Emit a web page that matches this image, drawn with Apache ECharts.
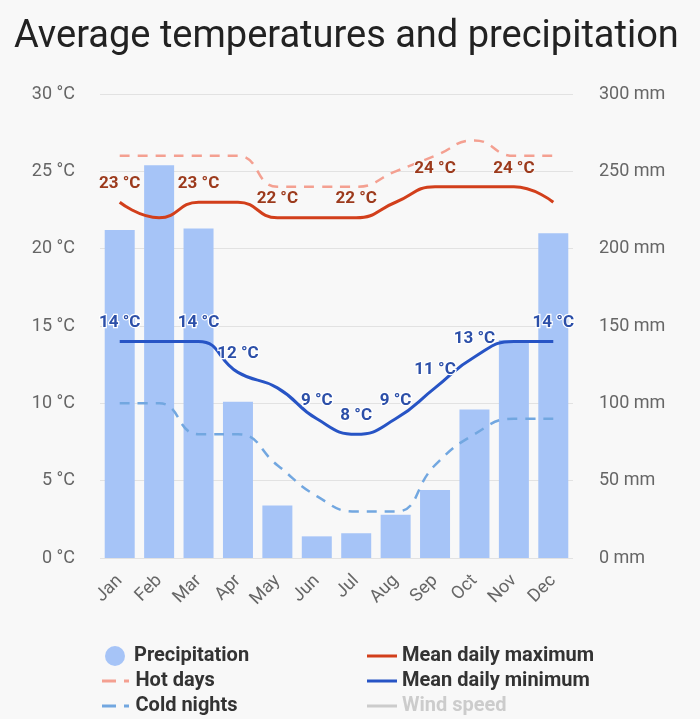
<!DOCTYPE html>
<html><head><meta charset="utf-8">
<script src="https://cdn.jsdelivr.net/npm/echarts@6/dist/echarts.min.js"></script>
<style>html,body{margin:0;padding:0;background:#f8f8f8}#c{width:700px;height:719px}</style>
</head><body><div id="c"></div>
<script>
const months = ['Jan','Feb','Mar','Apr','May','Jun','Jul','Aug','Sep','Oct','Nov','Dec'];
const precipitation = [212, 254, 213, 101, 34, 14, 16, 28, 44, 96, 141, 210];
const meanMax = [23, 22, 23, 23, 22, 22, 22, 23, 24, 24, 24, 23];
const meanMin = [14, 14, 14, 12, 11, 9, 8, 9, 11, 13, 14, 14];
const hotDays = [26, 26, 26, 26, 24, 24, 24, 25, 26, 27, 26, 26];
const coldNights = [10, 10, 8, 8, 6, 4, 3, 3, 6, 8, 9, 9];
const maxLabelShown = [1,0,1,0,1,0,1,0,1,0,1,0];
const minLabelShown = [1,0,1,1,0,1,1,1,1,1,0,1];

function labelled(vals, shown){
  return vals.map((v,i)=>({value:v,label:{show:!!shown[i]}}));
}
const chart = echarts.init(document.getElementById('c'));
const font = 'Roboto, "Noto Sans", sans-serif';
const legendText = {fontFamily:font,fontSize:20,fontWeight:'bold',color:'#333'};
const dashIcon = 'path://M0,0 h14 v3 h-14 z M22,0 h5 v3 h-5 z';
chart.setOption({
  backgroundColor:'#f8f8f8',
  animation:false,
  title:{text:'Average temperatures and precipitation',left:9,top:13,
    textStyle:{fontFamily:font,fontSize:38,fontWeight:'normal',color:'#222'}},
  grid:{left:100,right:127,top:94,bottom:161},
  legend:[{
    orient:'vertical',left:105,top:646,padding:0,itemGap:6,itemWidth:28,itemHeight:20,
    textStyle:legendText,inactiveColor:'#ccc',
    data:[{name:'Precipitation',icon:'circle'}]
  },{
    orient:'vertical',left:102,top:671,padding:0,itemGap:5,itemWidth:30,itemHeight:3,
    textStyle:legendText,inactiveColor:'#ccc',
    data:[{name:'Hot days',icon:dashIcon},{name:'Cold nights',icon:dashIcon}]
  },{
    orient:'vertical',left:367,top:646,padding:0,itemGap:5,itemWidth:30,itemHeight:3,
    textStyle:legendText,inactiveColor:'#ccc',
    data:[{name:'Mean daily maximum',icon:'rect'},{name:'Mean daily minimum',icon:'rect'},{name:'Wind speed',icon:'rect'}],
    selected:{'Wind speed':false}
  }],
  xAxis:{type:'category',data:months,
    axisLine:{show:false},axisTick:{show:false},
    axisLabel:{rotate:45,color:'#666',fontFamily:font,fontSize:18,margin:20}},
  yAxis:[{type:'value',min:0,max:30,interval:5,
    axisLabel:{formatter:'{value} °C',color:'#666',fontFamily:font,fontSize:18,margin:25},
    splitLine:{lineStyle:{color:'#e2e2e2',width:1}}},
  {type:'value',min:0,max:300,interval:50,
    axisLabel:{formatter:'{value} mm',color:'#666',fontFamily:font,fontSize:18,margin:26},
    splitLine:{show:false}}],
  series:[
    {name:'Precipitation',type:'bar',yAxisIndex:1,data:precipitation,barWidth:30,
      itemStyle:{color:'#a6c4f7'},z:1},
    {name:'Hot days',type:'line',smooth:0.5,data:hotDays,symbol:'none',
      lineStyle:{color:'#f4a091',width:2.5,type:[10,8]},itemStyle:{color:'#f4a091'},z:2},
    {name:'Cold nights',type:'line',smooth:0.5,data:coldNights,symbol:'none',
      lineStyle:{color:'#72a7e0',width:2.5,type:[10,8]},itemStyle:{color:'#72a7e0'},z:2},
    {name:'Mean daily maximum',type:'line',smooth:0.5,data:labelled(meanMax,maxLabelShown),
      symbol:'circle',symbolSize:0.1,showSymbol:true,
      lineStyle:{color:'#d23f1b',width:3},itemStyle:{color:'#d23f1b'},
      label:{position:'top',distance:10,formatter:'{c} °C',color:'#9c3a1c',fontFamily:font,
        fontSize:17,fontWeight:'bold',textBorderColor:'#f8f8f8',textBorderWidth:2},z:3},
    {name:'Mean daily minimum',type:'line',smooth:0.5,data:labelled(meanMin,minLabelShown),
      symbol:'circle',symbolSize:0.1,showSymbol:true,
      lineStyle:{color:'#2754c5',width:3},itemStyle:{color:'#2754c5'},
      label:{position:'top',distance:10,formatter:'{c} °C',color:'#2c4fa8',fontFamily:font,
        fontSize:17,fontWeight:'bold',textBorderColor:'#ffffff',textBorderWidth:2.5},z:3},
    {name:'Wind speed',type:'line',data:[],symbol:'none',itemStyle:{color:'#999'},lineStyle:{color:'#999',width:3}}
  ]
});
</script></body></html>
